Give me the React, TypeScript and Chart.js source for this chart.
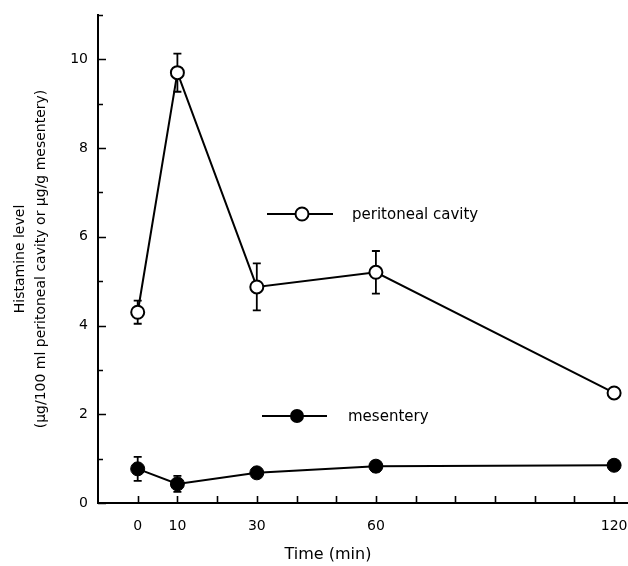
import React, { useEffect, useRef } from "react";
import { Chart, registerables } from "chart.js";

Chart.register(...registerables);

// ---- Data ----
const times = [0, 10, 30, 60, 120];
const peritoneal = [4.3, 9.7, 4.87, 5.2, 2.48];
const peritonealErr = [0.26, 0.43, 0.53, 0.48, 0];
const mesentery = [0.77, 0.43, 0.68, 0.83, 0.85];
const mesenteryErr = [0.27, 0.18, 0.07, 0.12, 0.04];

const xTickValues = [0, 10, 20, 30, 40, 50, 60, 70, 80, 90, 100, 110, 120];
const xLabelValues = [0, 10, 30, 60, 120];
const yTickValues = [0, 1, 2, 3, 4, 5, 6, 7, 8, 9, 10, 11];
const yLabelValues = [0, 2, 4, 6, 8, 10];

const xTitle = "Time (min)";
const yTitle = ["Histamine level", "(µg/100 ml peritoneal cavity or µg/g mesentery)"];
const legendLabels = ["peritoneal cavity", "mesentery"];

const FONT = "'DejaVu Sans', sans-serif";

const errorBarsPlugin = {
  id: "errorBars",
  beforeDatasetsDraw(chart: any) {
    const { ctx, scales } = chart;
    const x = scales.x;
    const y = scales.y;
    ctx.save();
    ctx.strokeStyle = "#000";
    ctx.lineWidth = 1.8;
    const sets: [number[], number[]][] = [
      [peritoneal, peritonealErr],
      [mesentery, mesenteryErr],
    ];
    sets.forEach(([vals, errs]) => {
      times.forEach((t, i) => {
        const e = errs[i];
        if (!e) return;
        const px = x.getPixelForValue(t);
        const top = y.getPixelForValue(vals[i] + e);
        const bot = y.getPixelForValue(vals[i] - e);
        ctx.beginPath();
        ctx.moveTo(px, top);
        ctx.lineTo(px, bot);
        ctx.moveTo(px - 4, top);
        ctx.lineTo(px + 4, top);
        ctx.moveTo(px - 4, bot);
        ctx.lineTo(px + 4, bot);
        ctx.stroke();
      });
    });
    ctx.restore();
  },
};

const inwardTicksPlugin = {
  id: "inwardTicks",
  afterDraw(chart: any) {
    const { ctx, scales, chartArea } = chart;
    const x = scales.x;
    const y = scales.y;
    ctx.save();
    ctx.strokeStyle = "#000";
    ctx.lineWidth = 1.6;
    ctx.beginPath();
    xTickValues.forEach((v) => {
      const px = Math.round(x.getPixelForValue(v)) + 0.5;
      ctx.moveTo(px, chartArea.bottom);
      ctx.lineTo(px, chartArea.bottom - 7);
    });
    yTickValues.forEach((v) => {
      const py = Math.round(y.getPixelForValue(v)) + 0.5;
      const len = yLabelValues.includes(v) ? 8 : 5;
      ctx.moveTo(chartArea.left, py);
      ctx.lineTo(chartArea.left + len, py);
    });
    ctx.stroke();
    ctx.restore();
  },
};

const legendPlugin = {
  id: "customLegend",
  afterDraw(chart: any) {
    const { ctx } = chart;
    ctx.save();
    ctx.strokeStyle = "#000";
    ctx.fillStyle = "#000";
    ctx.lineWidth = 2;
    ctx.font = `15px ${FONT}`;
    ctx.textBaseline = "middle";
    ctx.textAlign = "left";
    const items = [
      { x1: 267, x2: 333, cx: 302, y: 214, open: true, tx: 352, label: legendLabels[0] },
      { x1: 262, x2: 327, cx: 297, y: 416, open: false, tx: 348, label: legendLabels[1] },
    ];
    items.forEach((it) => {
      ctx.beginPath();
      ctx.moveTo(it.x1, it.y);
      ctx.lineTo(it.x2, it.y);
      ctx.stroke();
      ctx.beginPath();
      ctx.arc(it.cx, it.y, it.open ? 6.5 : 7, 0, Math.PI * 2);
      if (it.open) {
        ctx.fillStyle = "#fff";
        ctx.fill();
        ctx.stroke();
        ctx.fillStyle = "#000";
      } else {
        ctx.fill();
      }
      ctx.fillText(it.label, it.tx, it.y + 1);
    });
    // x-axis title (offset left of the plot centre, as in the original)
    ctx.font = `16px ${FONT}`;
    ctx.textAlign = "center";
    ctx.fillText(xTitle, 328, 555);
    ctx.restore();
  },
};

export default function App() {
  const ref = useRef<HTMLCanvasElement | null>(null);

  useEffect(() => {
    if (!ref.current) return;
    const chart = new Chart(ref.current, {
      type: "line",
      data: {
        datasets: [
          {
            label: legendLabels[0],
            data: times.map((t, i) => ({ x: t, y: peritoneal[i] })),
            borderColor: "#000",
            borderWidth: 2,
            backgroundColor: "#fff",
            pointBackgroundColor: "#fff",
            pointBorderColor: "#000",
            pointBorderWidth: 2,
            pointRadius: 6.5,
            pointStyle: "circle",
            tension: 0,
            clip: false,
          },
          {
            label: legendLabels[1],
            data: times.map((t, i) => ({ x: t, y: mesentery[i] })),
            borderColor: "#000",
            borderWidth: 2,
            backgroundColor: "#000",
            pointBackgroundColor: "#000",
            pointBorderColor: "#000",
            pointBorderWidth: 1,
            pointRadius: 7,
            pointStyle: "circle",
            tension: 0,
            clip: false,
          },
        ],
      },
      options: {
        responsive: false,
        animation: false,
        devicePixelRatio: 1,
        layout: { autoPadding: false, padding: { top: 15, right: 0, left: 0, bottom: 0 } },
        plugins: {
          legend: { display: false },
          tooltip: { enabled: false },
        },
        scales: {
          x: {
            type: "linear",
            min: -10,
            max: 123.5,
            afterBuildTicks: (s: any) => {
              s.ticks = xTickValues.map((v) => ({ value: v }));
            },
            afterFit: (s: any) => {
              s.height = 63;
              s.paddingLeft = 0;
              s.paddingRight = 0;
            },
            grid: { display: false, drawTicks: false },
            border: { display: true, color: "#000", width: 2 },
            ticks: {
              autoSkip: false,
              maxRotation: 0,
              padding: 15,
              color: "#000",
              font: { family: FONT, size: 14 },
              callback: (v: any) => (xLabelValues.includes(Number(v)) ? String(v) : ""),
            },
            title: { display: false },
          },
          y: {
            type: "linear",
            min: 0,
            max: 11,
            afterBuildTicks: (s: any) => {
              s.ticks = yTickValues.map((v) => ({ value: v }));
            },
            afterFit: (s: any) => {
              s.width = 98;
              s.paddingTop = 0;
              s.paddingBottom = 0;
            },
            grid: { display: false, drawTicks: false },
            border: { display: true, color: "#000", width: 2 },
            ticks: {
              autoSkip: false,
              padding: 10,
              color: "#000",
              font: { family: FONT, size: 14 },
              callback: (v: any) => (yLabelValues.includes(Number(v)) ? String(v) : ""),
            },
            title: {
              display: true,
              text: yTitle,
              color: "#000",
              font: { family: FONT, size: 14, lineHeight: 1.5 },
              padding: { top: 9.5, bottom: 0 },
            },
          },
        },
      },
      plugins: [errorBarsPlugin, inwardTicksPlugin, legendPlugin],
    });
    return () => chart.destroy();
  }, []);

  return (
    <div style={{ position: "absolute", left: 0, top: 0, width: 628, height: 566, background: "#fff" }}>
      <canvas ref={ref} width={628} height={566} style={{ display: "block" }} />
    </div>
  );
}
